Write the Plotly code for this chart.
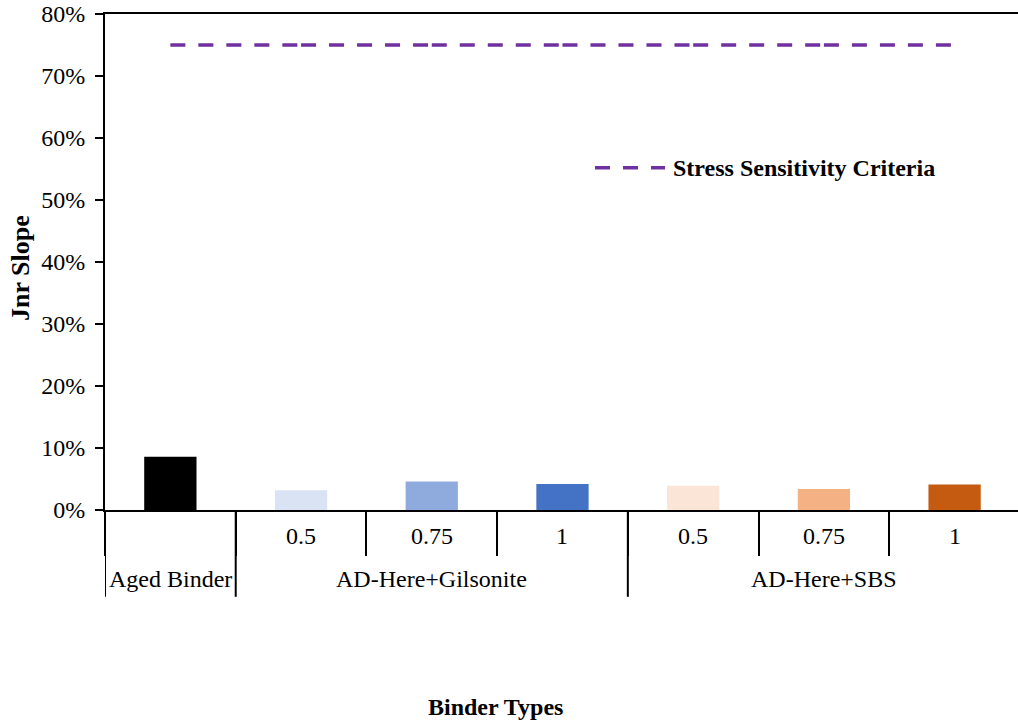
import plotly.graph_objects as go

# Binder groups (outer level) and dosage labels (inner level)
groups = ["Aged Binder", "AD-Here+Gilsonite", "AD-Here+Gilsonite", "AD-Here+Gilsonite",
          "AD-Here+SBS", "AD-Here+SBS", "AD-Here+SBS"]
dosages = ["", "0.5", "0.75", "1", "0.5", "0.75", "1"]

# Jnr slope values (fraction)
jnr_slope = [0.086, 0.032, 0.046, 0.042, 0.039, 0.034, 0.041]
bar_colors = ["#000000", "#DAE3F3", "#8FAADC", "#4472C4", "#FBE5D6", "#F4B183", "#C55A11"]

# Stress sensitivity limit
criteria = 0.75
criteria_name = "Stress Sensitivity Criteria"

font_family = "Liberation Serif, Times New Roman, serif"
FS = 24

n = len(groups)
pos = list(range(n))
boundaries = [i - 0.5 for i in range(n + 1)]

fig = go.Figure()

fig.add_trace(go.Bar(
    x=pos,
    y=jnr_slope,
    width=0.4,
    marker=dict(color=bar_colors, line=dict(width=0)),
    showlegend=False,
    customdata=[f"{g} {d}".strip() for g, d in zip(groups, dosages)],
    hovertemplate="%{customdata}: %{y:.1%}<extra></extra>",
))

# Criteria line drawn category to category (dash pattern restarts on each span)
for i in range(n - 1):
    fig.add_trace(go.Scatter(
        x=pos[i:i + 2],
        y=[criteria, criteria],
        mode="lines",
        line=dict(color="#7030A0", width=3.5, dash="15px,13px"),
        showlegend=False,
        hoverinfo="skip",
    ))

# Inner category labels (dosage)
for p, d in zip(pos, dosages):
    if d:
        fig.add_annotation(x=p, xref="x", y=-0.0534, yref="paper",
                           text=d, showarrow=False,
                           xanchor="center", yanchor="middle",
                           font=dict(family=font_family, size=FS, color="black"))

# Outer group labels and group dividers
start = 0
for i in range(1, n + 1):
    if i == n or groups[i] != groups[start]:
        centre = (pos[start] + pos[i - 1]) / 2
        fig.add_annotation(x=centre, xref="x", y=-0.140, yref="paper",
                           text=groups[start], showarrow=False,
                           xanchor="center", yanchor="middle",
                           font=dict(family=font_family, size=FS, color="black"))
        start = i
divider_pos = [boundaries[0]] + [pos[i] + 0.5 for i in range(n - 1) if groups[i] != groups[i + 1]]
for b in divider_pos:
    fig.add_shape(type="line", xref="x", yref="paper",
                  x0=b, x1=b, y0=0, y1=-0.175,
                  line=dict(color="black", width=2))

# Legend entry for the criteria line
fig.add_shape(type="line", xref="paper", yref="paper",
              x0=0.5367, x1=0.6134, y0=0.69, y1=0.69,
              line=dict(color="#7030A0", width=3.5, dash="15px,13px"))
fig.add_annotation(xref="paper", yref="paper", x=0.6199, y=0.69,
                   xanchor="left", yanchor="middle", showarrow=False,
                   text="<b>" + criteria_name + "</b>",
                   font=dict(family=font_family, size=FS, color="black"))

# Axis titles
fig.add_annotation(xref="paper", yref="paper", x=0.428, y=-0.398,
                   xanchor="center", yanchor="middle", showarrow=False,
                   text="<b>Binder Types</b>",
                   font=dict(family=font_family, size=FS, color="black"))
fig.add_annotation(xref="paper", yref="paper", x=-0.092, y=0.488,
                   xanchor="center", yanchor="middle", showarrow=False,
                   textangle=-90, text="<b>Jnr Slope</b>",
                   font=dict(family=font_family, size=26, color="black"))

fig.update_layout(
    width=1018, height=727,
    margin=dict(l=105, r=0, t=14, b=217),
    paper_bgcolor="white", plot_bgcolor="white",
    font=dict(family=font_family, size=FS, color="black"),
    xaxis=dict(
        range=[-0.5, 6.485],
        tickmode="array", tickvals=boundaries, showticklabels=False,
        showline=True, linecolor="black", linewidth=2, mirror=True,
        ticks="outside", ticklen=44, tickwidth=2, tickcolor="black",
        showgrid=False, zeroline=False,
    ),
    yaxis=dict(
        range=[0, 0.8], dtick=0.1, tickformat=".0%",
        showline=True, linecolor="black", linewidth=2,
        ticks="outside", ticklen=8, tickwidth=2, tickcolor="black",
        ticklabelstandoff=5,
        showgrid=False, zeroline=False,
        tickfont=dict(family=font_family, size=FS, color="black"),
    ),
)

fig.write_html("out.html")
